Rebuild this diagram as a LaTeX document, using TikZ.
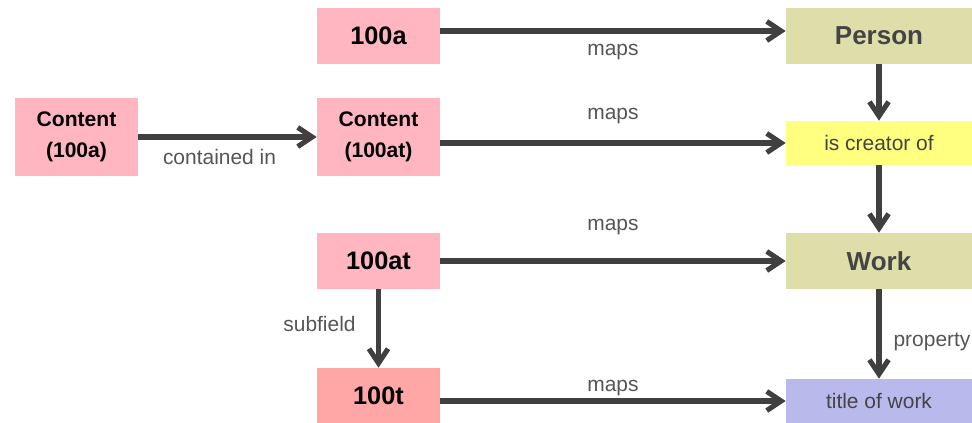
\documentclass[tikz,border=0pt]{standalone}
\usepackage{fontspec}
\setmainfont{Liberation Sans}
\usetikzlibrary{arrows.meta}

\definecolor{fieldpink}{HTML}{FFB6C1}
\definecolor{subpink}{HTML}{FFA6A6}
\definecolor{classolive}{HTML}{DEDEAA}
\definecolor{propyellow}{HTML}{FFFF80}
\definecolor{propblue}{HTML}{B9B9EB}
\definecolor{arrowgray}{HTML}{404040}
\definecolor{labelgray}{HTML}{555555}
\definecolor{namegray}{HTML}{444444}

\tikzset{
  field/.style={fill=fieldpink, inner sep=0pt, align=center, minimum width=3.075cm, minimum height=1.4cm, font=\fontsize{18}{22}\selectfont\bfseries},
  content/.style={field, minimum height=1.95cm, font=\fontsize{15}{22}\selectfont\bfseries},
  class/.style={fill=classolive, inner sep=0pt, minimum width=4.65cm, minimum height=1.4cm, text=namegray, font=\fontsize{18.5}{22}\selectfont\bfseries},
  prop/.style={inner sep=0pt, minimum width=4.65cm, minimum height=1.1cm, text=namegray, font=\fontsize{14.9}{18}\selectfont},
  lbl/.style={text=labelgray, font=\fontsize{14.9}{18}\selectfont},
  arr/.style={draw=arrowgray, line width=3.6pt, -{Straight Barb[length=3.6mm, width=4.8mm]}}
}

\begin{document}
\begin{tikzpicture}
\useasboundingbox (0,0) rectangle (24.3,10.575);

% MARC side
\node[content] (c100a) at (1.9125,7.15) {Content\\(100a)};
\node[content] (c100at) at (9.4625,7.15) {Content\\(100at)};
\node[field] (f100a) at (9.4625,9.675) {100a};
\node[field] (f100at) at (9.4625,4.05) {100at};
\node[field, fill=subpink, minimum height=1.375cm] (f100t) at (9.4625,0.6875) {100t};

% model side
\node[class] (person) at (21.975,9.675) {Person};
\node[prop, fill=propyellow] (creator) at (21.975,7.0) {is creator of};
\node[class] (work) at (21.975,4.05) {Work};
\node[prop, fill=propblue] (title) at (21.975,0.55) {title of work};

\draw[arr] (c100a) -- node[lbl, xshift=-0.2cm, yshift=-0.5cm] {contained in} (c100at);

\draw[arr] ([yshift=0.125cm]f100a.east) -- node[lbl, yshift=-0.525cm] {maps} ([yshift=0.125cm]person.west);
\draw[arr] (c100at.east |- creator) -- node[lbl, yshift=0.675cm] {maps} (creator);
\draw[arr] (f100at) -- node[lbl, yshift=0.85cm] {maps} (work);
\draw[arr] (f100t.east |- title) -- node[lbl, yshift=0.325cm] {maps} (title);

\draw[arr] (f100at) -- node[lbl, xshift=-1.475cm, yshift=0.1cm] {subfield} (f100t);

\draw[arr] (person) -- (creator);
\draw[arr] (creator) -- (work);
\draw[arr] (work) -- node[lbl, xshift=1.325cm, yshift=-0.2cm] {property} (title);
\end{tikzpicture}
\end{document}
